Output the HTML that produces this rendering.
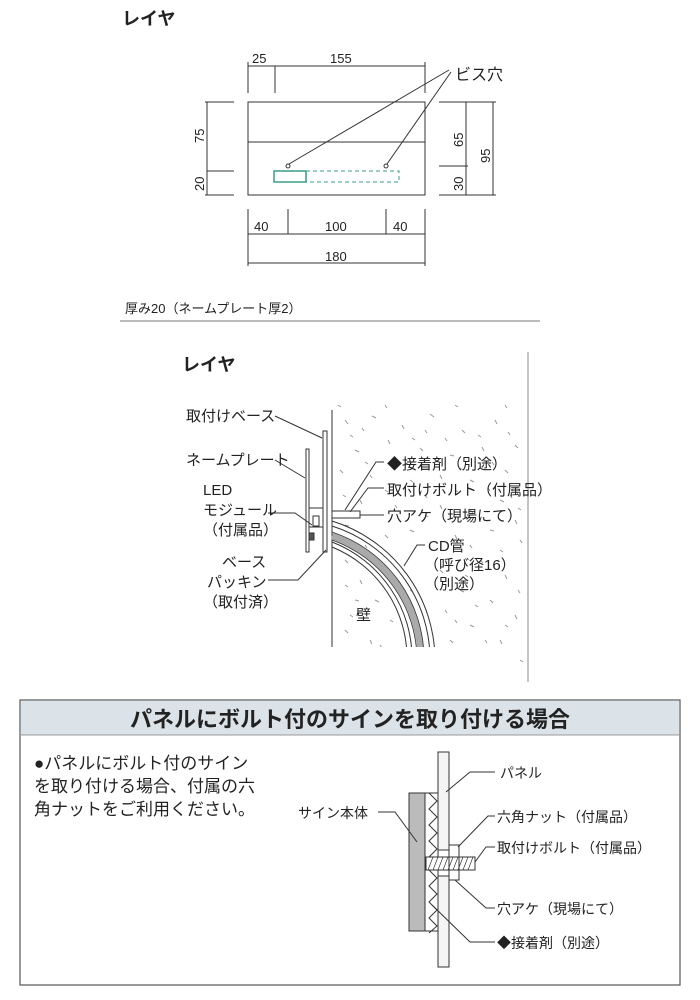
<!DOCTYPE html>
<html><head><meta charset="utf-8"><style>
html,body{margin:0;padding:0;background:#fff;}
svg{display:block;}
text{font-family:"Liberation Sans","Noto Sans CJK JP",sans-serif;fill:#222;}
</style></head><body>
<svg width="700" height="1000" viewBox="0 0 700 1000" xmlns="http://www.w3.org/2000/svg">
<g stroke="#333" stroke-width="1" fill="none">
<rect x="248" y="102" width="177" height="93"/>
<line x1="248" y1="142" x2="425" y2="142"/>
<circle cx="288" cy="166" r="2"/><circle cx="386" cy="166" r="2"/>
<line x1="449" y1="70" x2="289" y2="164"/>
<line x1="451" y1="72" x2="387" y2="164"/>
<line x1="248" y1="66" x2="425" y2="66"/>
<line x1="248" y1="62" x2="248" y2="93"/><line x1="275" y1="66" x2="275" y2="93"/><line x1="425" y1="62" x2="425" y2="93"/>
<line x1="207" y1="102" x2="207" y2="195"/>
<line x1="205" y1="102" x2="234" y2="102"/><line x1="207" y1="171" x2="234" y2="171"/><line x1="205" y1="195" x2="234" y2="195"/>
<line x1="439" y1="102" x2="496" y2="102"/><line x1="439" y1="166" x2="468" y2="166"/><line x1="439" y1="195" x2="496" y2="195"/>
<line x1="466" y1="102" x2="466" y2="195"/><line x1="493" y1="102" x2="493" y2="195"/>
<line x1="248" y1="209" x2="248" y2="266"/><line x1="288" y1="209" x2="288" y2="234"/><line x1="386" y1="209" x2="386" y2="234"/><line x1="425" y1="209" x2="425" y2="266"/>
<line x1="248" y1="234" x2="425" y2="234"/><line x1="248" y1="263" x2="425" y2="263"/>
<line x1="120" y1="321" x2="540" y2="321" stroke="#777"/>
</g>
<rect x="274" y="171" width="32" height="11" fill="none" stroke="#3a9e8a" stroke-width="1.5"/>
<path d="M306 171 H399 V182 H306" fill="none" stroke="#3a9e8a" stroke-width="1" stroke-dasharray="4,3"/>
<g font-size="13">
<text x="252" y="63">25</text><text x="330" y="63">155</text>
<text x="254" y="231">40</text><text x="325" y="231">100</text><text x="393" y="231">40</text>
<text x="325" y="261">180</text>
<text transform="translate(204,143) rotate(-90)">75</text>
<text transform="translate(204,191) rotate(-90)">20</text>
<text transform="translate(463,147) rotate(-90)">65</text>
<text transform="translate(463,191) rotate(-90)">30</text>
<text transform="translate(490,163) rotate(-90)">95</text>
</g>
<text x="455" y="80" font-size="16">ビス穴</text>
<text x="122" y="25" font-size="18" font-weight="bold">レイヤ</text>
<text x="125" y="313" font-size="13">厚み20（ネームプレート厚2）</text>

<!-- section 2 -->
<text x="182" y="371" font-size="18" font-weight="bold">レイヤ</text>
<g stroke="#999" stroke-width="1">
<path d="M345 420 l3 4 M372 416 l4 2 M402 425 l2 4 M430 414 l4 3 M462 430 l3 3 M495 420 l2 4 M515 445 l3 3 M355 450 l4 2 M388 440 l2 4 M420 448 l3 3 M450 455 l4 1 M482 447 l2 4 M505 470 l3 3 M470 480 l4 2 M440 475 l2 4 M410 480 l3 2 M370 475 l2 3 M500 500 l4 2 M470 510 l3 3 M440 505 l2 4 M410 530 l4 2 M385 535 l3 3 M455 535 l2 4 M490 530 l4 1 M515 520 l2 4 M480 560 l3 3 M505 575 l2 4 M460 590 l4 2 M490 600 l3 3 M515 615 l2 4 M470 625 l4 2 M450 640 l3 3 M500 640 l2 4 M345 560 l3 3 M360 580 l2 4 M375 600 l4 2 M345 630 l3 3 M370 640 l2 4 M390 620 l3 2 M355 600 l4 1 M385 565 l2 3 M340 470 l3 3 M360 500 l2 4 M345 525 l4 1 M395 460 l3 2 M425 430 l2 3 M350 435 l3 2 M510 495 l2 3 M440 570 l3 3 M445 610 l2 3 M520 660 l3 2 M480 660 l2 3 M400 655 l3 2 M360 660 l2 3 M410 590 l3 2 M338 405 l3 2 M385 405 l2 3 M455 405 l3 2 M505 405 l2 3 M362 428 l2 3 M412 438 l3 2 M445 438 l2 3 M478 435 l3 2 M508 432 l2 3 M365 462 l3 2 M420 465 l2 3 M460 468 l3 2 M492 462 l2 3 M385 490 l3 2 M425 495 l2 3 M455 490 l3 2 M488 488 l2 3 M518 508 l3 2 M395 505 l2 3 M425 515 l3 2 M470 545 l2 3 M500 550 l3 2 M520 540 l2 3 M465 575 l3 2 M518 590 l2 3 M475 605 l3 2 M455 620 l2 3 M505 625 l3 2 M485 640 l2 3 M350 615 l3 2 M380 645 l2 3 M345 585 l3 2 M365 545 l2 3 M343 495 l3 2"/>
</g>
<g stroke="#333" stroke-width="1" fill="#fff">
<line x1="332" y1="410" x2="332" y2="647"/>
<rect x="323" y="431" width="4" height="121"/>
<rect x="306" y="449" width="3" height="103"/>
<rect x="309" y="508" width="14" height="19"/>
<rect x="313" y="516" width="6" height="10"/>
<rect x="309" y="533" width="5" height="7" fill="#555"/>
<rect x="332" y="511" width="28" height="7"/>
</g>
<g fill="none" stroke="#333" stroke-width="1">
<path d="M332 547 A120 120 0 0 1 407 660"/>
<path d="M332 542 A125 125 0 0 1 412 660"/>
<path d="M332 536 A132 132 0 0 1 421 660" stroke="#aaa" stroke-width="7"/>
<path d="M332 532 A134 134 0 0 1 424 660" stroke-width="0.8"/>
<path d="M332 540 A128 128 0 0 1 417 660" stroke-width="0.8"/>
<path d="M332 526 A140 140 0 0 1 430 660"/>
<path d="M332 521 A146 146 0 0 1 435 660"/>
</g>
<rect x="333" y="647" width="180" height="20" fill="#fff"/>
<line x1="528" y1="352" x2="528" y2="682" stroke="#888"/>
<g fill="none" stroke="#333" stroke-width="1">
<path d="M275 416 L322 438"/>
<path d="M275 460 L305 478"/>
<path d="M268 513 H295 L312 525"/>
<path d="M268 580 H298 L326 550"/>
<path d="M384 462 H376 L345 510"/>
<path d="M384 488 H368 L350 512"/>
<path d="M360 515 H384"/>
<path d="M425 545 H417 L404 566"/>
</g>
<g font-size="15">
<text x="186" y="421">取付けベース</text>
<text x="186" y="465">ネームプレート</text>
<text x="203" y="495">LED</text>
<text x="203" y="515">モジュール</text>
<text x="203" y="535">（付属品）</text>
<text x="222" y="567">ベース</text>
<text x="207" y="587">パッキン</text>
<text x="203" y="607">（取付済）</text>
<text x="387" y="469">◆接着剤（別途）</text>
<text x="387" y="495">取付けボルト（付属品）</text>
<text x="387" y="521">穴アケ（現場にて）</text>
<text x="428" y="551">CD管</text>
<text x="424" y="570">（呼び径16）</text>
<text x="424" y="589">（別途）</text>
<text x="356" y="620">壁</text>
</g>

<!-- section 3 -->
<rect x="20" y="700" width="660" height="285" fill="#fff" stroke="#555" stroke-width="1.2"/>
<rect x="20.6" y="700.6" width="658.8" height="34" fill="#dce3e8"/>
<line x1="20" y1="735" x2="680" y2="735" stroke="#999"/>
<text x="350" y="727" font-size="22" font-weight="bold" text-anchor="middle">パネルにボルト付のサインを取り付ける場合</text>
<g font-size="17">
<text x="34" y="769">●パネルにボルト付のサイン</text>
<text x="34" y="792">を取り付ける場合、付属の六</text>
<text x="34" y="815">角ナットをご利用ください。</text>
</g>
<g stroke="#333" stroke-width="1">
<rect x="438" y="752" width="11" height="215" fill="#f4f4f4"/>
<rect x="438" y="850" width="12" height="26" fill="#fff" stroke="none"/>
<path d="M438 850 H449 M438 876 H449" fill="none"/>
<rect x="409" y="793" width="16" height="138" fill="#bbb"/>
<rect x="425" y="793" width="13" height="138" fill="#fff"/>
<path d="M429 793 l8 8 l-8 8 l8 8 l-8 8 l8 8 l-8 8 l8 8 l-8 8 l8 6 M429 870 l8 8 l-8 8 l8 8 l-8 8 l8 8 l-8 8 l8 8 l-8 7" fill="none"/>
<rect x="449" y="845" width="10" height="35" fill="#fff"/>
<rect x="426" y="857" width="49" height="13" fill="#fff"/>
<path d="M428 870 l5 -13 M433 870 l5 -13 M438 870 l5 -13 M443 870 l5 -13 M448 870 l5 -13 M453 870 l5 -13 M458 870 l5 -13 M463 870 l5 -13 M468 870 l5 -13" fill="none" stroke-width="0.7"/>
<rect x="449" y="845" width="10" height="35" fill="none"/>
</g>
<g fill="none" stroke="#333" stroke-width="1">
<path d="M495 772 H470 L446 792"/>
<path d="M378 812 H395 L417 842"/>
<path d="M495 816 H488 L458 847"/>
<path d="M495 847 H486 L475 862"/>
<path d="M495 908 H486 L455 880"/>
<path d="M495 942 H470 L432 905"/>
</g>
<g font-size="14">
<text x="500" y="778">パネル</text>
<text x="298" y="818">サイン本体</text>
<text x="497" y="822">六角ナット（付属品）</text>
<text x="497" y="853">取付けボルト（付属品）</text>
<text x="497" y="914">穴アケ（現場にて）</text>
<text x="497" y="948">◆接着剤（別途）</text>
</g>
</svg>
</body></html>
